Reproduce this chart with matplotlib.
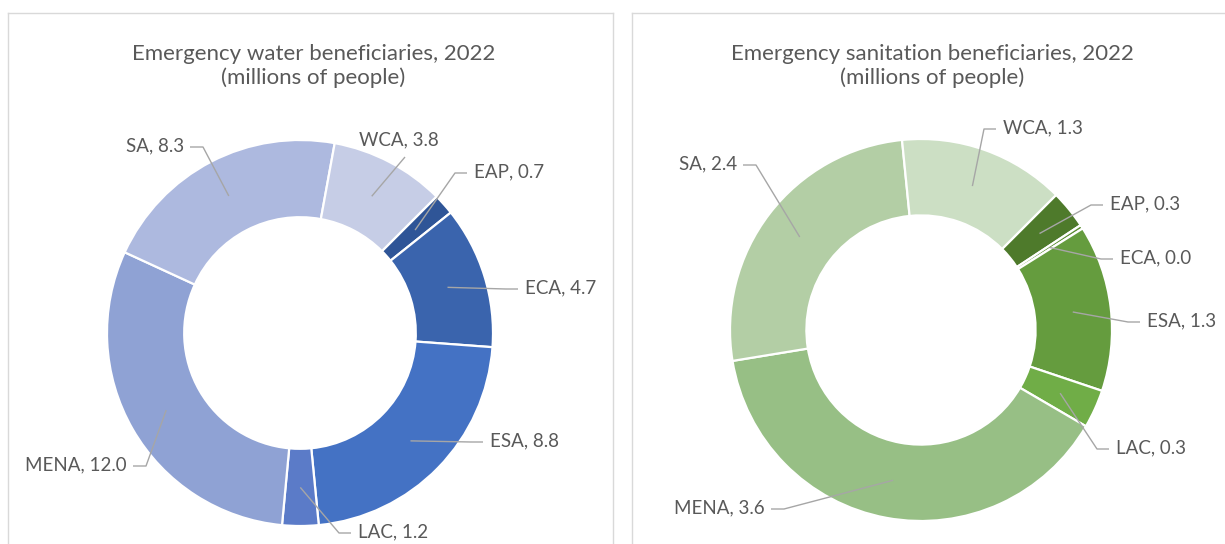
import matplotlib
matplotlib.use("Agg")
import matplotlib.pyplot as plt
import numpy as np

plt.rcParams['font.family'] = ['Lato', 'DejaVu Sans']

regions = ['EAP', 'ECA', 'ESA', 'LAC', 'MENA', 'SA', 'WCA']
water = [0.7, 4.7, 8.8, 1.2, 12.0, 8.3, 3.8]
sanitation = [0.3, 0.03, 1.3, 0.3, 3.6, 2.4, 1.3]

water_colors = ['#2F5597', '#3A64AD', '#4472C4', '#5B7BC8', '#8FA2D4', '#ADB9DF', '#C6CDE6']
san_colors = ['#4E7A2B', '#5B8D33', '#659C3E', '#70AD47', '#97BF85', '#B3CEA5', '#CCDFC4']

water_title = 'Emergency water beneficiaries, 2022\n(millions of people)'
san_title = 'Emergency sanitation beneficiaries, 2022\n(millions of people)'

W, H = 1225, 544
TXT = '#595959'
LEAD = '#A6A6A6'

# label layout (pixel positions in the picture): x of text edge, y centre, side
water_lbl = {'EAP': (474, 172, 'r'), 'ECA': (525, 288, 'r'), 'ESA': (490, 441, 'r'),
             'LAC': (358, 532, 'r'), 'MENA': (127, 465, 'l'), 'SA': (184, 146, 'l'),
             'WCA': (399, 140, 'b')}
san_lbl = {'EAP': (1110, 204, 'r'), 'ECA': (1120, 258, 'r'), 'ESA': (1147, 321, 'r'),
           'LAC': (1116, 448, 'r'), 'MENA': (765, 508, 'l'), 'SA': (737, 164, 'l'),
           'WCA': (1003, 128, 'r')}


def donut(fig, box, centre, R, values, colors, title, labels, show_right=True):
    x0, x1, y0 = box
    cx, cy = centre
    ax = fig.add_axes([x0 / W, 0, (x1 - x0) / W, (H - y0) / H])
    wedges, _ = ax.pie(values, colors=colors, startangle=45, counterclock=False, radius=1,
                       wedgeprops=dict(width=0.4, edgecolor='white', linewidth=1.6))
    ax.set_aspect('auto')
    ax.set_xlim((x0 - cx) / R, (x1 - cx) / R)
    ax.set_ylim((cy - H) / R, (cy - y0) / R)
    ax.set_frame_on(True)
    ax.set_xticks([])
    ax.set_yticks([])
    for s in ['top', 'left', 'right', 'bottom']:
        ax.spines[s].set_color('#D9D9D9')
        ax.spines[s].set_linewidth(1.0)
    ax.spines['bottom'].set_visible(False)
    ax.spines['right'].set_visible(show_right)

    def px(x, y):
        return (x - cx) / R, (cy - y) / R

    tx, ty = px((x0 + x1) / 2 + 3, 66)
    ax.text(tx, ty, title, ha='center', va='center', fontsize=16, color=TXT, linespacing=1.25)

    for name, val, w in zip(regions, values, wedges):
        mid = np.deg2rad((w.theta1 + w.theta2) / 2)
        p = (0.8 * np.cos(mid), 0.8 * np.sin(mid))
        lx, ly, side = labels[name]
        s = '%s, %.1f' % (name, val)
        if side == 'r':
            ax.text(*px(lx, ly), s, ha='left', va='center', fontsize=13.5, color=TXT)
            a = px(lx - 7, ly + 1)
            b = px(lx - 19, ly + 1)
        elif side == 'l':
            ax.text(*px(lx, ly), s, ha='right', va='center', fontsize=13.5, color=TXT)
            a = px(lx + 6, ly + 1)
            b = px(lx + 19, ly + 1)
        else:
            ax.text(*px(lx, ly), s, ha='center', va='center', fontsize=13.5, color=TXT)
            a = px(lx + 6, ly + 17)
            b = a
        ax.plot([a[0], b[0], p[0]], [a[1], b[1], p[1]], color=LEAD, lw=1.0,
                solid_capstyle='butt', zorder=5)
    return ax


fig = plt.figure(figsize=(W / 100, H / 100), dpi=100)
donut(fig, (8, 613, 13), (300, 333), 193, water, water_colors, water_title, water_lbl)
donut(fig, (632, 1226, 13), (921, 330), 191, sanitation, san_colors, san_title, san_lbl,
      show_right=False)

fig.savefig('out.png', dpi=100, facecolor='white')
